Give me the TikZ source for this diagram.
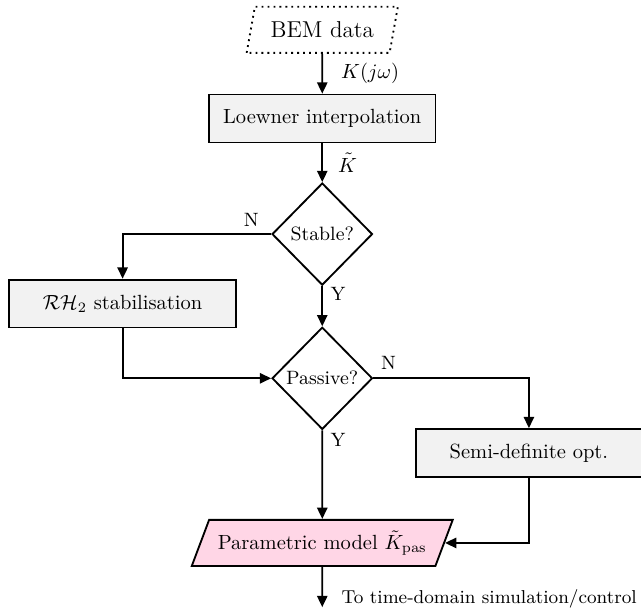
\documentclass[tikz,border=0pt]{standalone}
\usepackage{amsmath,amssymb}
\usetikzlibrary{shapes.geometric,arrows.meta}
\definecolor{boxgray}{gray}{0.95}
\definecolor{modelpink}{RGB}{255,214,230}

\begin{document}
\begin{tikzpicture}[
    line width=0.9pt,
    arr/.style={-{Triangle[length=5.5pt,width=5pt]}},
    procbox/.style={draw, fill=boxgray, minimum width=3.88cm, minimum height=0.82cm, inner sep=0pt},
    decision/.style={draw, diamond, minimum width=1.72cm, minimum height=1.75cm, inner sep=0pt, font=\fontsize{9.4}{11}\selectfont},
    iobox/.style={draw, trapezium, trapezium stretches body, inner sep=0pt, minimum height=0.79cm},
    yn/.style={font=\fontsize{9.4}{11}\selectfont, inner sep=0pt},
  ]
  \useasboundingbox (0,0) rectangle (10.98,-10.54);

  % main column
  \node[iobox, dotted, trapezium left angle=63, trapezium right angle=117, minimum width=2.59cm,
        font=\fontsize{11.2}{13}\selectfont] (bem) at (5.52,-0.51) {BEM data};
  \node[procbox] (loew) at (5.52,-2.03) {Loewner interpolation};
  \node[decision] (stable) at (5.52,-4.01) {Stable?};
  \node[decision] (passive) at (5.52,-6.48) {Passive?};
  \node[iobox, fill=modelpink, trapezium left angle=55, trapezium right angle=125, minimum width=4.47cm]
        (param) at (5.52,-9.30) {Parametric model $\tilde{K}_{\mathrm{pas}}$};
  \coordinate (out) at (5.52,-10.40);

  % side branches
  \node[procbox] (rh2) at (2.10,-5.20) {$\mathcal{RH}_2$ stabilisation};
  \node[procbox] (semi) at (9.06,-7.76) {Semi-definite opt.};

  \draw[arr] (bem) -- node[right=0.19cm] (kjw) {$K(j\omega)$} (loew);
  \draw[arr] (loew) -- node[right=0.14cm] (ktil) {$\tilde{K}$} (stable);
  \draw[arr] (stable) -- (passive);
  \draw[arr] (stable.west) -| (rh2.north);
  \draw[arr] (rh2.south) |- (passive.west);
  \draw[arr] (passive.east) -| (semi.north);
  \draw[arr] (passive) -- (param);
  \draw[arr] (semi.south) |- (param.east);
  \draw[arr] (param) -- (out);

  \node[yn] (nstable) at ([xshift=-0.34cm,yshift=0.24cm]stable.west) {N};
  \node[yn] (ystable) at ([xshift=0.27cm,yshift=-0.14cm]stable.south) {Y};
  \node[yn] (npassive) at ([xshift=0.26cm,yshift=0.26cm]passive.east) {N};
  \node[yn] (ypassive) at ([xshift=0.27cm,yshift=-0.17cm]passive.south) {Y};

  \node[anchor=west, font=\fontsize{9.1}{11}\selectfont] (outlbl) at (5.72,-10.25) {To time-domain simulation/control};
\end{tikzpicture}
\end{document}
